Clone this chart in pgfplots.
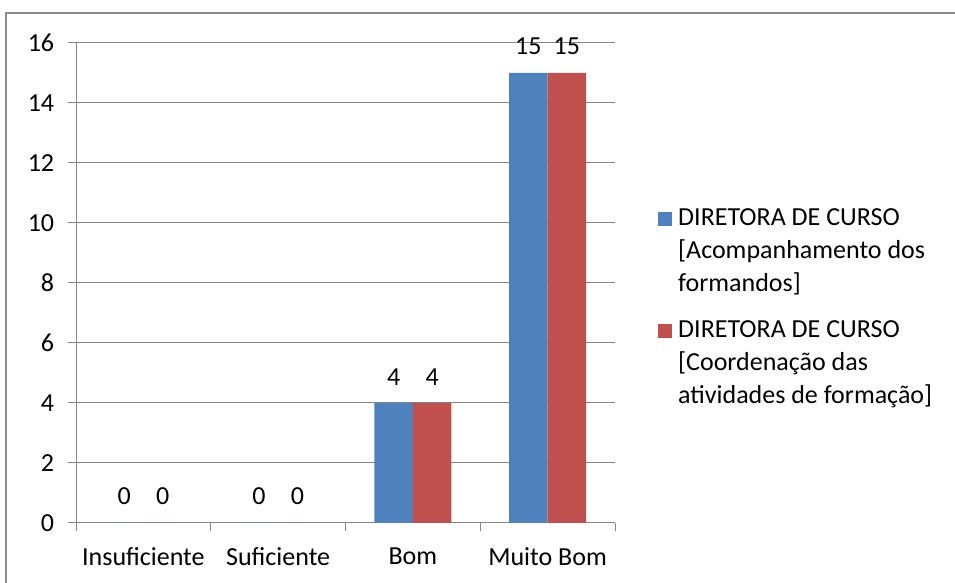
\documentclass[border=0pt]{standalone}
\usepackage{fontspec}
\setmainfont{Carlito}
\usepackage{pgfplots}
\pgfplotsset{compat=1.18}
\definecolor{barblue}{HTML}{4F81BD}
\definecolor{barred}{HTML}{C0504D}
\definecolor{gridgray}{HTML}{868686}
\definecolor{framegray}{HTML}{8C8C8C}
\begin{document}
\fontsize{26}{33}\selectfont
\begin{tikzpicture}[x=1pt,y=1pt]
\path[use as bounding box] (0,0) rectangle (955,583);
\draw[framegray, line width=2pt] (6,0) -- (6,570) -- (955,570);
\begin{axis}[
  at={(76pt,60pt)}, anchor=south west,
  scale only axis, width=539pt, height=480pt,
  xmin=-0.5, xmax=3.5, ymin=0, ymax=16,
  ybar, bar width=0.2857,
  axis x line*=bottom, axis y line*=left,
  axis line style={gridgray, line width=1pt, -},
  tick style={gridgray, line width=1pt},
  tick align=outside,
  major tick length=8pt, minor tick length=8pt,
  xtick={0,1,2,3},
  xticklabels={Insuficiente,Suficiente,Bom,Muito Bom},
  major x tick style={draw=none},
  minor xtick={-0.5,0.5,1.5,2.5,3.5},
  ytick={0,2,...,16},
  ymajorgrids,
  major grid style={gridgray, line width=1pt},
  /pgf/number format/assume math mode=true,
  ticklabel style={font=\fontsize{26}{33}\selectfont},
  xticklabel style={yshift=-8pt},
  yticklabel style={xshift=-5pt},
  nodes near coords,
  every node near coord/.append style={font=\fontsize{26}{33}\selectfont, yshift=9pt, text=black},
  legend cell align=left,
  legend style={at={(1.0798,0.665)}, anchor=north west, draw=none, fill=none,
    inner sep=0pt, row sep=16pt, column sep=6pt,
    font=\fontsize{26}{33}\selectfont,
    nodes={align=left, inner sep=0pt}},
  legend image code/.code={\path[fill=none,draw=none] (0pt,-48pt) rectangle (14pt,48pt);
    \fill[#1,draw=none] (0pt,26pt) rectangle (14pt,40pt);},
]
\addplot[fill=barblue, draw=none, bar shift=-0.14285] coordinates {(0,0) (1,0) (2,4) (3,15)};
\addlegendentry{DIRETORA DE CURSO\\{[}Acompanhamento dos\\formandos]}
\addplot[fill=barred, draw=none, bar shift=0.14285] coordinates {(0,0) (1,0) (2,4) (3,15)};
\addlegendentry{DIRETORA DE CURSO\\{[}Coordenação das\\atividades de formação]}
\end{axis}
\end{tikzpicture}
\end{document}
